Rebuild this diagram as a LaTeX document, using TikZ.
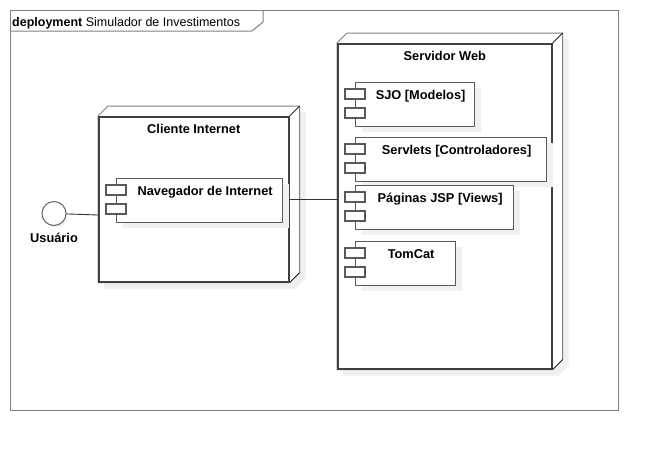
\documentclass[tikz,border=0pt]{standalone}
\usepackage{fontspec}
\setmainfont{Liberation Sans}
\usetikzlibrary{positioning,shadows,backgrounds}

\begin{document}
\begin{tikzpicture}[x=1pt,y=-1pt,
  font=\fontsize{12.5}{15}\selectfont,
  frame/.style={draw=black!50, line width=1pt},
  face/.style={draw=black!75, line width=1.6pt, fill=white, anchor=north west, inner sep=0pt},
  backline/.style={draw=black!50, line width=1pt, fill=white},
  edge3d/.style={draw=black, line width=0.6pt},
  nodeshadow/.style={fill=black!6},
  comp/.style={draw=black!65, line width=1.2pt, fill=white, anchor=north west, inner sep=0pt, minimum height=44pt,
    drop shadow={shadow xshift=6pt, shadow yshift=-5pt, fill=black!6, opacity=1}},
  port/.style={draw=black!65, line width=1.1pt, fill=white},
  link/.style={draw=black!80, line width=0.9pt},
  nodetitle/.style={anchor=base, yshift=-17pt, font=\fontsize{12.8}{15}\selectfont\bfseries},
  comptitle/.style={anchor=base, xshift=5.5pt, yshift=-17pt, font=\fontsize{12.8}{15}\selectfont\bfseries}]
	\useasboundingbox (0,0) rectangle (658,450);
	% frame
	\draw[frame] (10,10) rectangle (618,410);
	\draw[frame] (10,31) -- (252,31) -- (263,22) -- (263,10);
	\node[anchor=base west, inner sep=0pt] (diagram) at (12,26) {\textbf{deployment} Simulador de Investimentos};

	% nodes
	\node[face, minimum width=190pt, minimum height=165pt, label={[nodetitle]north:Cliente Internet}] (client) at (98,116) {};
	\node[face, minimum width=214pt, minimum height=325pt, label={[nodetitle]north:Servidor Web}] (server) at (337,43) {};
	\begin{scope}[on background layer]
		\foreach \n in {client,server} {
			\fill[nodeshadow, transform canvas={xshift=6pt,yshift=-6pt}] (\n.north west) -- ++(10,-10) -- ([shift={(10pt,10pt)}]\n.north east)
				-- ([shift={(10pt,10pt)}]\n.south east) -- (\n.south east) -- (\n.south west) -- cycle;
			\filldraw[backline] (\n.north west) -- ++(10,-10) -- ([shift={(10pt,10pt)}]\n.north east)
				-- ([shift={(10pt,10pt)}]\n.south east) -- (\n.south east) -- (\n.south west) -- cycle;
			\draw[edge3d] (\n.north east) -- ++(10,-10);
			\draw[edge3d] (\n.south east) -- ([shift={(10pt,10pt)}]\n.south east);
		}
	\end{scope}

	% components
	\node[comp, minimum width=166pt, label={[comptitle]north:Navegador de Internet}] (nav) at (116,178) {};
	\node[comp, minimum width=119pt, label={[comptitle]north:SJO [Modelos]}] (sjo) at (355,82) {};
	\node[comp, minimum width=191pt, label={[comptitle]north:Servlets [Controladores]}] (servlets) at (355,137) {};
	\node[comp, minimum width=158pt, label={[comptitle]north:Páginas JSP [Views]}] (jsp) at (355,185) {};
	\node[comp, minimum width=100pt, label={[comptitle]north:TomCat}] (tomcat) at (355,241) {};
	\foreach \c in {nav,sjo,servlets,jsp,tomcat} {
		\draw[port] ([shift={(-10pt,-7pt)}]\c.north west) rectangle ++(20,10);
		\draw[port] ([shift={(-10pt,-26pt)}]\c.north west) rectangle ++(20,10);
	}

	% actor
	\node[circle, draw=black!60, line width=1pt, fill=white, minimum size=24pt, inner sep=0pt,
		drop shadow={shadow xshift=2pt, shadow yshift=-2pt, fill=black!6, opacity=1},
		label={[label distance=4pt, font=\fontsize{12.8}{15}\selectfont\bfseries]below:Usuário}] (user) at (54,213.5) {};

	\draw[link] (user) -- (client.west |- 0,215);
	\draw[link] (client.east) -- (client.east -| server.west);
\end{tikzpicture}
\end{document}
